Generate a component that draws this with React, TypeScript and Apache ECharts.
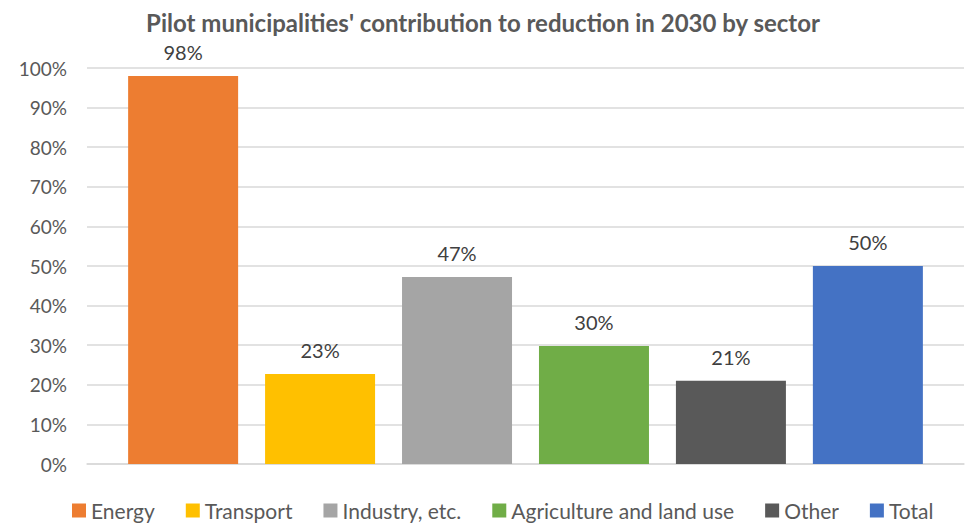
import React, { useEffect, useRef } from "react";
import * as echarts from "echarts";

const titleText = "Pilot municipalities' contribution to reduction in 2030 by sector";
const categories = ["2030"];
const seriesNames = ["Energy", "Transport", "Industry, etc.", "Agriculture and land use", "Other", "Total"];
const seriesValues = [98, 22.7, 47.2, 29.8, 21, 50];
const seriesColors = ["#ED7D31", "#FFC000", "#A5A5A5", "#70AD47", "#595959", "#4472C4"];

const FONT = "Lato, 'Open Sans', sans-serif";

export default function App() {
  const ref = useRef<HTMLDivElement>(null);
  useEffect(() => {
    if (!ref.current) return;
    const chart = echarts.init(ref.current, null, { renderer: "svg" });
    chart.setOption({
      animation: false,
      backgroundColor: "#ffffff",
      title: {
        text: titleText,
        left: "center",
        top: 5,
        textStyle: { fontFamily: FONT, fontSize: 24, fontWeight: "bold", color: "#595959" },
      },
      grid: { left: 87, right: 2, top: 68, bottom: 66 },
      legend: {
        bottom: 4,
        left: 67,
        itemWidth: 14,
        itemHeight: 14,
        itemGap: 31,
        icon: "rect",
        textStyle: { fontFamily: FONT, fontSize: 21, color: "#595959" },
        data: seriesNames,
      },
      xAxis: {
        type: "category",
        data: categories,
        axisLine: { show: true, lineStyle: { color: "#D9D9D9", width: 1.5 } },
        axisTick: { show: false },
        axisLabel: { show: false },
      },
      yAxis: {
        type: "value",
        min: 0,
        max: 100,
        interval: 10,
        axisLine: { show: false },
        axisTick: { show: false },
        axisLabel: {
          formatter: (v: number) => v + "%",
          fontFamily: FONT,
          fontSize: 19,
          color: "#595959",
          margin: 20,
        },
        splitLine: { lineStyle: { color: "#D9D9D9", width: 1.5 } },
      },
      series: seriesNames.map((name, i) => ({
        name,
        type: "bar",
        data: [seriesValues[i]],
        barWidth: 110,
        barGap: "24.5%",
        itemStyle: { color: seriesColors[i] },
        label: {
          show: true,
          position: "top",
          distance: 14,
          formatter: (p: any) => Math.round(p.value) + "%",
          fontFamily: FONT,
          fontSize: 20,
          color: "#404040",
        },
      })),
    });
    return () => chart.dispose();
  }, []);
  return <div ref={ref} style={{ width: 966, height: 530, position: "absolute", left: 0, top: 0 }} />;
}
